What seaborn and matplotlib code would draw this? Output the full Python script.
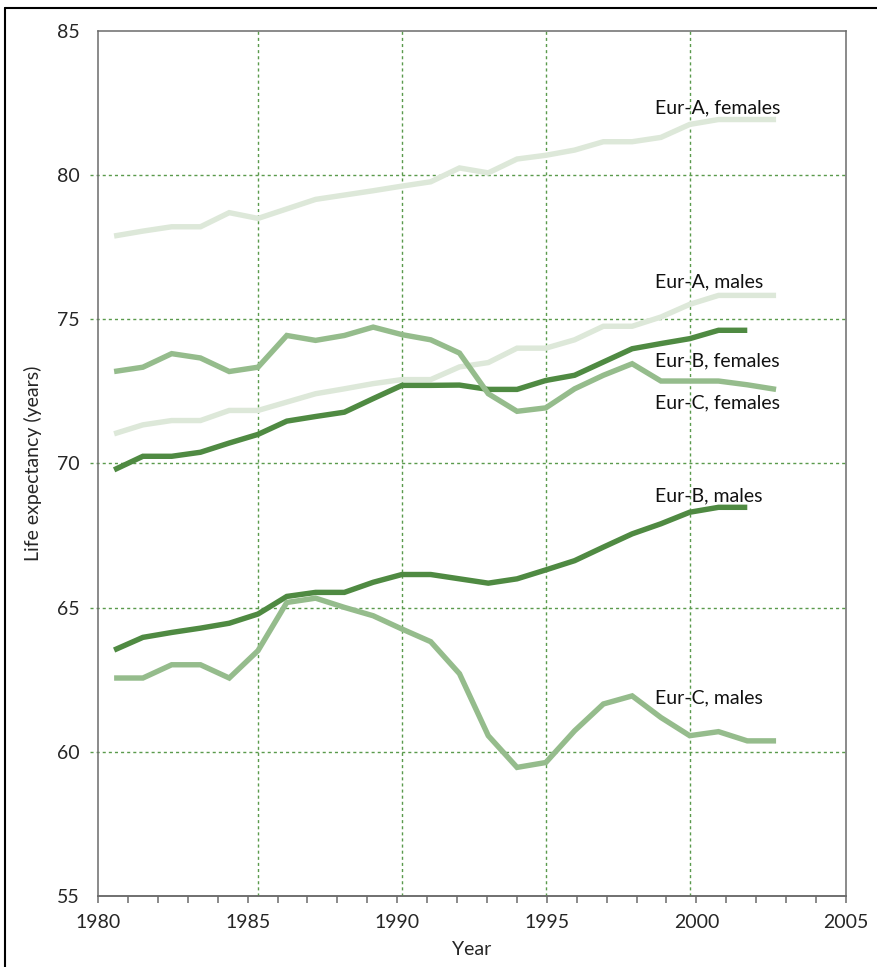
import numpy as np
import pandas as pd
import matplotlib
matplotlib.use("Agg")
import matplotlib.pyplot as plt
from matplotlib.lines import Line2D
import seaborn as sns

# ---------------- data ----------------
years_long = list(range(1980, 2004))   # 1980-2003
years_short = list(range(1980, 2003))  # 1980-2002

eurA_females = [77.89, 78.06, 78.21, 78.21, 78.70, 78.50, 78.83, 79.16, 79.31, 79.46, 79.62, 79.77,
                80.25, 80.08, 80.56, 80.69, 80.87, 81.16, 81.16, 81.31, 81.76, 81.93, 81.93, 81.93]
eurA_males = [71.03, 71.34, 71.49, 71.49, 71.84, 71.84, 72.13, 72.42, 72.59, 72.77, 72.91, 72.91,
              73.35, 73.50, 74.00, 74.00, 74.29, 74.76, 74.76, 75.08, 75.52, 75.83, 75.83, 75.83]
eurB_females = [69.78, 70.25, 70.25, 70.39, 70.71, 71.01, 71.47, 71.63, 71.78, 72.25, 72.71, 72.71,
                72.72, 72.57, 72.57, 72.88, 73.06, 73.52, 73.98, 74.16, 74.33, 74.62, 74.62]
eurB_males = [63.53, 63.97, 64.14, 64.29, 64.46, 64.78, 65.39, 65.53, 65.53, 65.88, 66.15, 66.15,
              66.00, 65.85, 66.00, 66.31, 66.63, 67.10, 67.56, 67.91, 68.31, 68.48, 68.48]
eurC_females = [73.19, 73.34, 73.81, 73.66, 73.19, 73.34, 74.44, 74.27, 74.44, 74.73, 74.47, 74.29,
                73.83, 72.42, 71.81, 71.93, 72.59, 73.06, 73.46, 72.86, 72.86, 72.86, 72.73, 72.57]
eurC_males = [62.56, 62.56, 63.02, 63.02, 62.56, 63.51, 65.18, 65.33, 65.01, 64.72, 64.26, 63.82,
              62.71, 60.56, 59.46, 59.63, 60.73, 61.66, 61.94, 61.19, 60.56, 60.70, 60.38, 60.38]

series_names = ["Eur-A, females", "Eur-A, males", "Eur-B, females",
                "Eur-B, males", "Eur-C, females", "Eur-C, males"]
label_y = [82.16, 76.10, 73.37, 68.68, 71.90, 61.68]   # baseline of the inline labels
label_x = 1998.8

yticks = [55, 60, 65, 70, 75, 80, 85]
xtick_labels = [1980, 1985, 1990, 1995, 2000, 2005]
vgrid_years = [1985, 1990, 1995, 2000]

# ---------------- build frame ----------------
frames = []
for name, yrs, vals in [
    ("Eur-A, females", years_long, eurA_females),
    ("Eur-A, males", years_long, eurA_males),
    ("Eur-B, females", years_short, eurB_females),
    ("Eur-B, males", years_short, eurB_males),
    ("Eur-C, females", years_long, eurC_females),
    ("Eur-C, males", years_long, eurC_males),
]:
    frames.append(pd.DataFrame({"Year": yrs, "Life expectancy": vals, "series": name}))
df = pd.concat(frames, ignore_index=True)

light = "#dde8d9"
medium = "#95bc8c"
dark = "#4f8a42"
palette = {
    "Eur-A, females": light, "Eur-A, males": light,
    "Eur-B, females": dark, "Eur-B, males": dark,
    "Eur-C, females": medium, "Eur-C, males": medium,
}
grid_color = "#5a9a4c"
spine_color = "#6b6b6b"

# ---------------- style ----------------
sns.set_style("white")
plt.rcParams["font.family"] = ["Lato", "DejaVu Sans"]
plt.rcParams["text.color"] = "#111111"

fig = plt.figure(figsize=(8.78, 9.67), dpi=100)
W, H = 878, 967
ax_left, ax_right, ax_top, ax_bottom = 98, 846, 31, 896
ax = fig.add_axes([ax_left / W, 1 - ax_bottom / H, (ax_right - ax_left) / W, (ax_bottom - ax_top) / H])

xlim = (1979.44, 2005.43)
ax.set_xlim(*xlim)
ax.set_ylim(55, 85)

# gridlines
ext = 8 / (ax_right - ax_left)
for yv in yticks[1:-1]:
    ax.axhline(yv, xmin=-ext, xmax=1, color=grid_color, lw=1.0, ls=(0, (2.2, 2.2)),
               clip_on=False, zorder=0.5)
for xv in vgrid_years:
    ax.axvline(xv, color=grid_color, lw=1.0, ls=(0, (2.2, 2.2)), zorder=0.5)

order = ["Eur-A, females", "Eur-A, males", "Eur-B, females", "Eur-C, females",
         "Eur-B, males", "Eur-C, males"]
for name in order:
    sub = df[df["series"] == name]
    sns.lineplot(data=sub, x="Year", y="Life expectancy", color=palette[name],
                 lw=3.9, ax=ax, legend=False, solid_capstyle="butt", solid_joinstyle="miter",
                 zorder=2)

for name, yv in zip(series_names, label_y):
    ax.text(label_x, yv, name, ha="left", va="baseline", fontsize=14, color="#111111", zorder=3)

# y axis
ax.set_yticks(yticks)
ax.set_yticklabels([str(v) for v in yticks], fontsize=14)
ax.tick_params(axis="y", length=0, pad=13)
ax.set_ylabel("Life expectancy (years)", fontsize=14, labelpad=11)

# hide primary x axis ticks, use secondary axis for the printed year scale
ax.tick_params(axis="x", which="both", bottom=False, labelbottom=False)
ax.set_xlabel("")
scale = 25 / (xlim[1] - xlim[0])
fwd = lambda x: 1980 + (np.asarray(x) - xlim[0]) * scale
inv = lambda l: xlim[0] + (np.asarray(l) - 1980) / scale
sec = ax.secondary_xaxis("bottom", functions=(fwd, inv))
sec.set_xticks(xtick_labels)
sec.set_xticklabels([str(v) for v in xtick_labels], fontsize=14)
sec.set_xticks(list(range(1980, 2006)), minor=True)
sec.tick_params(axis="x", which="both", length=5.2, width=1.1, color=spine_color, pad=8, direction="out")
sec.spines["bottom"].set_color(spine_color)
sec.spines["bottom"].set_linewidth(1.1)
sec.set_xlabel("Year", fontsize=14, labelpad=7)

for s in ["left", "right", "top", "bottom"]:
    ax.spines[s].set_visible(True)
    ax.spines[s].set_color(spine_color)
    ax.spines[s].set_linewidth(1.1)

# outer frame (left and top edges visible in the reference)
fx = 5.5 / W
fy = 1 - 8.3 / H
fig.add_artist(Line2D([fx, fx], [0, fy], color="black", lw=1.5, transform=fig.transFigure))
fig.add_artist(Line2D([fx, 1], [fy, fy], color="black", lw=1.5, transform=fig.transFigure))

fig.savefig("out.png", dpi=100)
